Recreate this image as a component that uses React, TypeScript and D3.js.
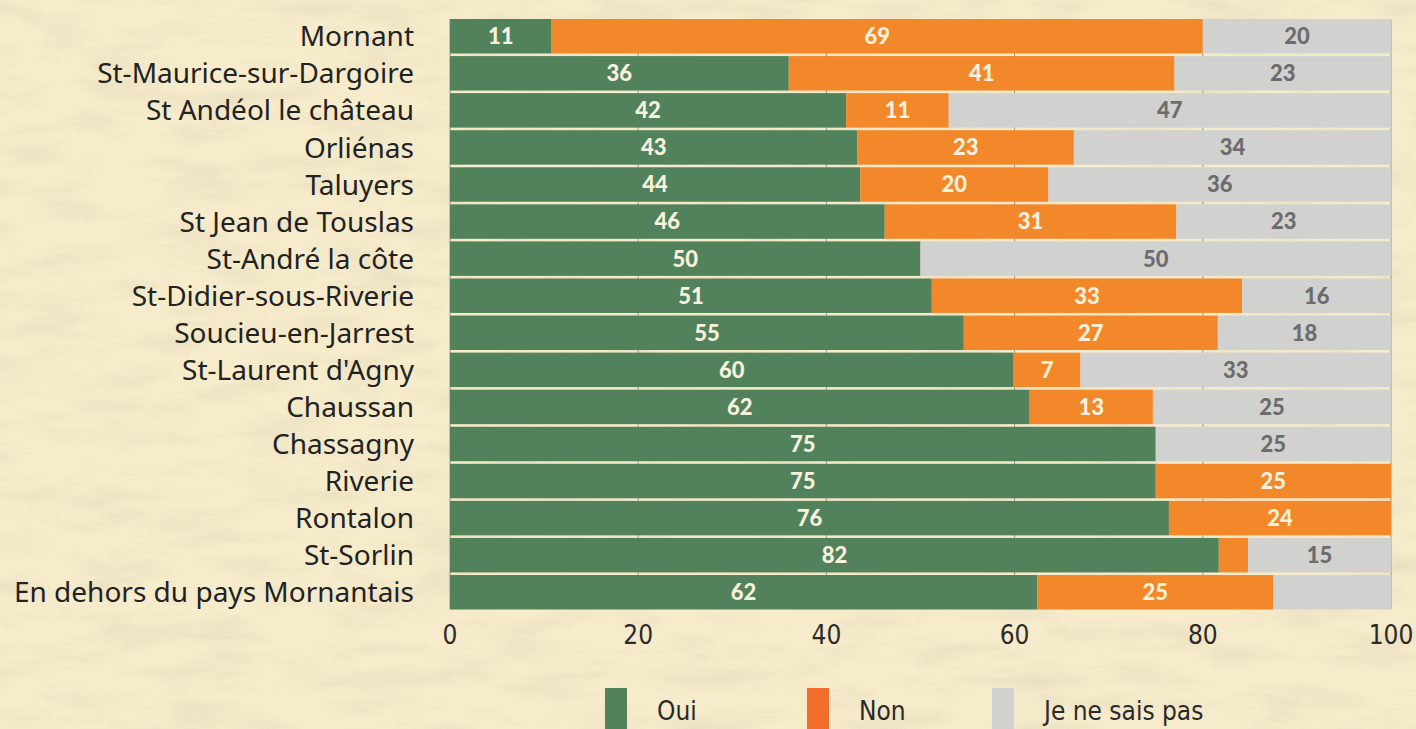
import React from 'react'
import * as d3 from 'd3'

const communes = [
  'Mornant', 'St-Maurice-sur-Dargoire', 'St Andéol le château', 'Orliénas', 'Taluyers',
  'St Jean de Touslas', 'St-André la côte', 'St-Didier-sous-Riverie', 'Soucieu-en-Jarrest',
  "St-Laurent d'Agny", 'Chaussan', 'Chassagny', 'Riverie', 'Rontalon', 'St-Sorlin',
  'En dehors du pays Mornantais',
]
const oui = [10.8, 36, 42.1, 43.3, 43.6, 46.2, 50, 51.2, 54.6, 59.9, 61.6, 75, 75, 76.4, 81.7, 62.4]
const non = [69.2, 41, 10.9, 23, 20, 31, 0, 33, 27, 7.1, 13.1, 0, 25, 23.6, 3.1, 25.1]
const nsp = [20, 23, 47, 33.7, 36.4, 22.8, 50, 15.8, 18.4, 33, 25.3, 25, 0, 0, 15.2, 12.5]
// labels the original leaves out
const hiddenLabels = ['St-Sorlin|non', 'En dehors du pays Mornantais|nsp']
const ticks = [0, 20, 40, 60, 80, 100]
const keys = ['oui', 'non', 'nsp']
const legendNames = ['Oui', 'Non', 'Je ne sais pas']

const barColor: Record<string, string> = { oui: '#52825c', non: '#f3882b', nsp: '#d1d2d0' }
const legendColor: Record<string, string> = { oui: '#52825c', non: '#f26d2b', nsp: '#d1d2d0' }

export default function App() {
  const W = 1416, H = 729
  const x = d3.scaleLinear().domain([0, 100]).range([450, 1391])
  const y = d3.scaleBand().domain(communes).range([19, 609.5]).paddingInner(0.07)

  const rows = communes.map((c, i) => ({ commune: c, oui: oui[i], non: non[i], nsp: nsp[i] }))
  const series = d3.stack<any>().keys(keys)(rows)

  const legendX = d3.scaleOrdinal<string, number>().domain(keys).range([605, 807, 992])
  const labelFont = '"Noto Sans", "Open Sans", sans-serif'
  const valueFont = '"Lato", "Noto Sans", sans-serif'
  const narrow = '"Liberation Sans Narrow", "DejaVu Sans Condensed", sans-serif'

  return (
    <svg width={W} height={H} style={{ position: 'fixed', left: 0, top: 0 }}>
      <defs>
        <filter id="paper" x="0" y="0" width="100%" height="100%">
          <feTurbulence type="fractalNoise" baseFrequency="0.012 0.045" numOctaves="5" seed="7" />
          <feColorMatrix type="matrix" values="0 0 0 0 0.6  0 0 0 0 0.53  0 0 0 0 0.38  0 0 0 -1.6 0.9" />
        </filter>
      </defs>
      <rect width={W} height={H} fill="#f6ebcb" />
      <rect width={W} height={H} filter="url(#paper)" opacity={0.35} />

      <g>
        {ticks.map(t => (
          <line key={t} x1={x(t)} x2={x(t)} y1={19} y2={609} stroke="#9a968c" strokeWidth={1} />
        ))}
      </g>

      {series.map(s => (
        <g key={s.key}>
          {s.map((d, i) => {
            const w = x(d[1]) - x(d[0])
            if (w <= 0) return null
            const c = communes[i]
            const v = d[1] - d[0]
            const show = !hiddenLabels.includes(c + '|' + s.key)
            return (
              <g key={c}>
                <rect x={x(d[0])} y={y(c)} width={w} height={y.bandwidth()} fill={barColor[s.key]} />
                {show && (
                  <text
                    x={(x(d[0]) + x(d[1])) / 2}
                    y={(y(c) as number) + y.bandwidth() / 2}
                    dy="0.36em"
                    textAnchor="middle"
                    fontFamily={valueFont}
                    fontWeight={900}
                    fontSize={22}
                    fill={s.key === 'nsp' ? '#6c6c6e' : '#f8f1dc'}
                  >
                    {Math.round(v)}
                  </text>
                )}
              </g>
            )
          })}
        </g>
      ))}

      <g>
        {communes.map(c => (
          <text
            key={c}
            x={414}
            y={(y(c) as number) + y.bandwidth() / 2}
            dy="0.36em"
            textAnchor="end"
            fontFamily={labelFont}
            fontSize={28}
            fill="#222"
          >
            {c}
          </text>
        ))}
      </g>

      <g>
        {ticks.map(t => (
          <text key={t} x={x(t)} y={644} textAnchor="middle" fontFamily={narrow} fontSize={26} fill="#2a2a2a">
            {t}
          </text>
        ))}
      </g>

      <g>
        {keys.map((k, i) => (
          <g key={k}>
            <rect x={legendX(k)} y={688} width={22} height={45} fill={legendColor[k]} />
            <text x={legendX(k) + 52} y={720} fontFamily={narrow} fontSize={26} fill="#2a2a2a">
              {legendNames[i]}
            </text>
          </g>
        ))}
      </g>
    </svg>
  )
}
